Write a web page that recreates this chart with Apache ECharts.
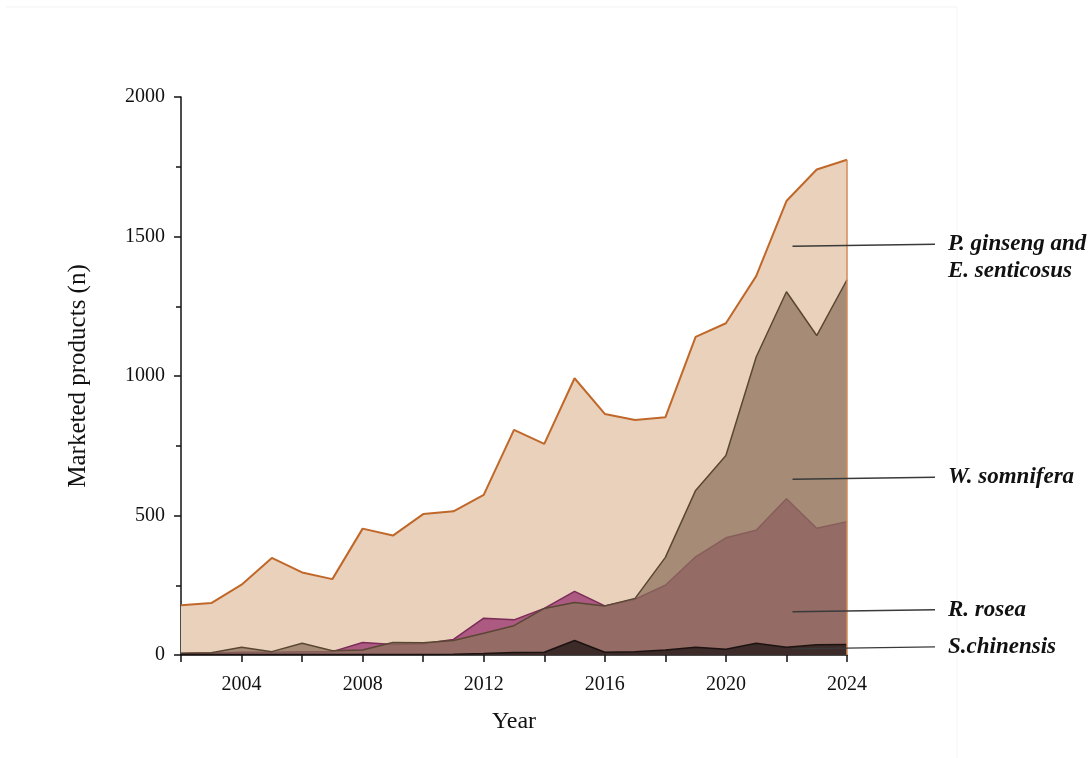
<!DOCTYPE html>
<html>
<head>
<meta charset="utf-8">
<script src="https://cdn.jsdelivr.net/npm/echarts@6/dist/echarts.min.js"></script>
<style>
  html, body { margin: 0; padding: 0; background: #ffffff; }
  #chart { width: 1091px; height: 758px; }
</style>
</head>
<body>
<div id="chart"></div>
<script>
// Yearly counts of marketed products per adaptogen
const years = [2002, 2003, 2004, 2005, 2006, 2007, 2008, 2009, 2010, 2011, 2012, 2013,
               2014, 2015, 2016, 2017, 2018, 2019, 2020, 2021, 2022, 2023, 2024];
const ginsengEleuthero = [178, 186, 252, 348, 296, 272, 453, 428, 505, 515, 574, 807,
                          757, 992, 864, 842, 852, 1140, 1189, 1358, 1627, 1740, 1775];
const withania = [6, 8, 28, 12, 42, 15, 18, 45, 44, 52, 78, 105,
                  167, 188, 176, 203, 350, 590, 715, 1068, 1302, 1145, 1345];
const rhodiola = [5, 7, 10, 10, 12, 12, 45, 38, 40, 56, 132, 126,
                  167, 228, 176, 200, 250, 352, 420, 447, 560, 454, 478];
const schisandra = [2, 2, 2, 2, 2, 2, 2, 2, 2, 3, 5, 9,
                    10, 52, 10, 12, 18, 28, 21, 42, 28, 37, 38];

const seriesNames = ['P. ginseng and\nE. senticosus', 'W. somnifera', 'R. rosea', 'S.chinensis'];
const yTicks = { min: 0, max: 2000, step: 500 };
const xTicks = { min: 2002, max: 2024, step: 2, labelEvery: 4 };

const pairs = arr => years.map((y, i) => [y, arr[i]]);
const serif = '"Liberation Serif", "DejaVu Serif", serif';

const chart = echarts.init(document.getElementById('chart'));

const lastYear = years[years.length - 1];
const lastTop = ginsengEleuthero[ginsengEleuthero.length - 1];

chart.setOption({
  animation: false,
  backgroundColor: '#ffffff',
  grid: { left: 181, right: 244, top: 97, bottom: 103 },
  xAxis: {
    type: 'value',
    min: xTicks.min, max: xTicks.max, interval: xTicks.step,
    name: 'Year', nameLocation: 'middle', nameGap: 55,
    nameTextStyle: { fontFamily: serif, fontSize: 24, color: '#111' },
    axisLine: { lineStyle: { color: '#111', width: 1.5 } },
    axisTick: { length: 7, lineStyle: { color: '#111', width: 1.5 } },
    axisLabel: {
      margin: 20, fontFamily: serif, fontSize: 20, color: '#111',
      formatter: v => ((v - 2004) % xTicks.labelEvery === 0 ? String(v) : '')
    },
    splitLine: { show: false }
  },
  yAxis: {
    type: 'value',
    min: yTicks.min, max: yTicks.max, interval: yTicks.step,
    name: 'Marketed products (n)', nameLocation: 'middle', nameGap: 90,
    nameTextStyle: { fontFamily: serif, fontSize: 25, color: '#111' },
    axisLine: { show: true, lineStyle: { color: '#111', width: 1.5 } },
    axisTick: { show: true, length: 7, lineStyle: { color: '#111', width: 1.5 } },
    minorTick: { show: true, splitNumber: 2, length: 5, lineStyle: { color: '#111', width: 1.5 } },
    axisLabel: { margin: 16, fontFamily: serif, fontSize: 20, color: '#111', formatter: v => String(v) },
    splitLine: { show: false }
  },
  series: [
    {
      name: seriesNames[0], type: 'line', data: pairs(ginsengEleuthero),
      symbol: 'none', z: 1,
      lineStyle: { color: '#c0682a', width: 2 },
      areaStyle: { color: '#e9d1bb', opacity: 1 },
      markLine: {
        silent: true, symbol: 'none', label: { show: false },
        lineStyle: { color: '#d58a55', width: 1.5, type: 'solid' },
        data: [[{ coord: [lastYear, 0] }, { coord: [lastYear, lastTop] }]]
      }
    },
    {
      name: seriesNames[2], type: 'line', data: pairs(rhodiola),
      symbol: 'none', z: 2,
      lineStyle: { color: '#7b2b58', width: 1.5 },
      areaStyle: { color: 'rgb(172,90,129)', opacity: 1 }
    },
    {
      name: seriesNames[1], type: 'line', data: pairs(withania),
      symbol: 'none', z: 3,
      lineStyle: { color: '#5a4733', width: 1.5 },
      areaStyle: { color: 'rgb(140,114,92)', opacity: 0.72 }
    },
    {
      name: seriesNames[3], type: 'line', data: pairs(schisandra),
      symbol: 'none', z: 4,
      lineStyle: { color: '#1c1311', width: 1.5 },
      areaStyle: { color: '#3c2b28', opacity: 1 }
    }
  ]
});

// Leader lines from each area to its name on the right
const annotations = [
  { name: seriesNames[0], at: [2022.2, 1465] },
  { name: seriesNames[1], at: [2022.2, 630] },
  { name: seriesNames[2], at: [2022.2, 155] },
  { name: seriesNames[3], at: [2022.2, 22] }
];
const graphics = [];
annotations.forEach(a => {
  const p = chart.convertToPixel({ gridIndex: 0 }, a.at);
  const multi = a.name.indexOf('\n') >= 0;
  graphics.push({
    type: 'line', z: 20,
    shape: { x1: p[0], y1: p[1], x2: 935, y2: p[1] - 2 },
    style: { stroke: '#3a3a3a', lineWidth: 1.3 }
  });
  graphics.push({
    type: 'text', z: 20, x: 948, y: multi ? p[1] - 16 : p[1] - 2,
    style: {
      text: a.name, fill: '#111',
      font: 'italic bold 23px ' + serif,
      lineHeight: 27,
      verticalAlign: multi ? 'top' : 'middle'
    }
  });
});
// faint page frame
graphics.push({ type: 'line', shape: { x1: 6, y1: 7, x2: 957, y2: 7 }, style: { stroke: '#f3f3f3', lineWidth: 1 } });
graphics.push({ type: 'line', shape: { x1: 957, y1: 7, x2: 957, y2: 758 }, style: { stroke: '#f6f6f6', lineWidth: 1 } });
chart.setOption({ graphic: graphics });
</script>
</body>
</html>
